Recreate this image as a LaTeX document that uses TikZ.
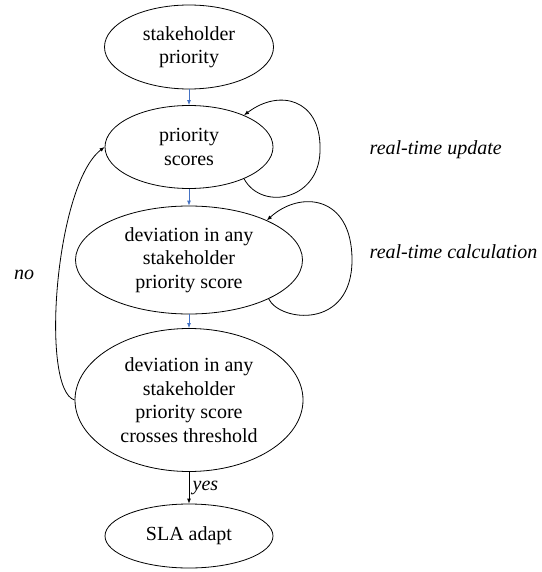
\documentclass[tikz,border=0pt]{standalone}
\usepackage{fontspec}
\setmainfont{Liberation Serif}
\usetikzlibrary{shapes.geometric, arrows.meta}

\definecolor{flowblue}{RGB}{68,114,196}

\begin{document}
\begin{tikzpicture}[x=1pt, y=-1pt, line width=0.8pt, >={Latex[length=5pt,width=4pt]},
  every node/.style={font=\fontsize{20}{23.5}\selectfont},
  oval/.style={draw, ellipse, align=center, inner sep=0pt},
  lbl/.style={font=\fontsize{20}{23.5}\selectfont\itshape}]
\useasboundingbox (0,0) rectangle (541,572);
\node[oval, minimum width=169, minimum height=84] (stk) at (189,47) {stakeholder\\priority};
\node[oval, minimum width=168, minimum height=83] (pscore) at (189,147) {priority\\scores};
\node[oval, minimum width=227, minimum height=108] (dev) at (189,260) {deviation in any\\stakeholder\\priority score};
\node[oval, minimum width=228, minimum height=143] (thr) at (189,400) {deviation in any\\stakeholder\\priority score\\crosses threshold};
\node[oval, minimum width=168, minimum height=64] (sla) at (189,536) {SLA adapt};
\draw[->, flowblue] (stk) -- (pscore);
\draw[->, flowblue] (pscore) -- (dev);
\draw[->, flowblue] (dev) -- (thr);
\draw[->] (thr) -- (sla) node[lbl, midway, right] {yes};
% self loops
\draw[->] (pscore.-30) .. controls (262,212) and (322,200) .. (320,147)
  .. controls (320,100) and (280,88) .. (pscore.30);
\draw[->] (dev.-26) .. controls (280,322) and (352,330) .. (352,260)
  .. controls (352,195) and (300,190) .. (dev.27);
\node[lbl, anchor=west] (upd) at (366,150) {real-time update};
\node[lbl, anchor=west] (calc) at (366,252) {real-time calculation};
% back edge
\draw[->] (thr.west) .. controls (40,390) and (55,185) .. (pscore.west);
\node[lbl] (no) at (24,275) {no};
\end{tikzpicture}
\end{document}
